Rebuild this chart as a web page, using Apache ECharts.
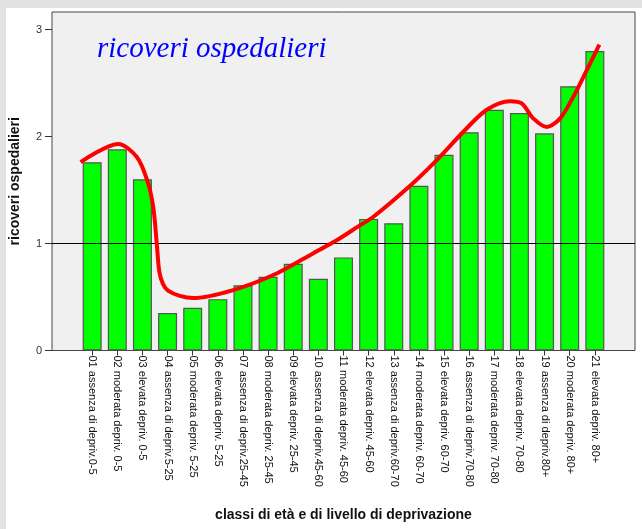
<!DOCTYPE html>
<html>
<head>
<meta charset="utf-8">
<script src="https://cdn.jsdelivr.net/npm/echarts@6/dist/echarts.min.js"></script>
<style>
  html, body { margin: 0; padding: 0; background: #e2e2e2; }
  #chart { width: 642px; height: 529px; }
</style>
</head>
<body>
<div id="chart"></div>
<script>
// categorie (classi di età x livello di deprivazione)
const categories = [
  '01 assenza di depriv.0-5', '02 moderata depriv. 0-5', '03 elevata depriv. 0-5',
  '04 assenza di depriv.5-25', '05 moderata depriv. 5-25', '06 elevata depriv. 5-25',
  '07 assenza di depriv.25-45', '08 moderata depriv. 25-45', '09 elevata depriv. 25-45',
  '10 assenza di depriv.45-60', '11 moderata depriv. 45-60', '12 elevata depriv. 45-60',
  '13 assenza di depriv.60-70', '14 moderata depriv. 60-70', '15 elevata depriv. 60-70',
  '16 assenza di depriv.70-80', '17 moderata depriv. 70-80', '18 elevata depriv. 70-80',
  '19 assenza di depriv.80+', '20 moderata depriv. 80+', '21 elevata depriv. 80+'
];
const ricoveri = [1.76, 1.88, 1.60, 0.35, 0.40, 0.48, 0.61, 0.69, 0.81, 0.67, 0.87,
  1.23, 1.19, 1.54, 1.83, 2.04, 2.25, 2.22, 2.03, 2.47, 2.80];
// curva di tendenza: [posizione categoria, valore]
const curvaX = [-0.46, 1.04, 1.77, 2.19, 2.43, 2.57, 2.67, 2.82, 3.02, 3.49, 4.02, 5.61,
  7.34, 8.80, 9.73, 10.59, 11.19, 12.65, 13.71, 14.77, 15.70, 16.63, 17.09, 17.55,
  18.09, 18.62, 19.14, 19.68, 20.18];
const curvaY = [1.76, 1.93, 1.81, 1.59, 1.34, 1.00, 0.74, 0.62, 0.56, 0.51, 0.49, 0.565,
  0.72, 0.91, 1.03, 1.16, 1.25, 1.54, 1.78, 2.045, 2.25, 2.33, 2.31, 2.17,
  2.09, 2.17, 2.37, 2.62, 2.86];
const yTicks = [0, 1, 2, 3];
const riferimento = 1;

const font = '"Liberation Sans", Arial, sans-serif';
const chart = echarts.init(document.getElementById('chart'));

chart.setOption({
  backgroundColor: '#e2e2e2',
  animation: false,
  graphic: [{
    type: 'rect', left: 6, top: 8, z: -10,
    shape: { width: 636, height: 521 },
    style: { fill: '#ffffff' }
  }],
  title: {
    text: 'ricoveri ospedalieri',
    left: 92, top: 30,
    textStyle: {
      fontFamily: '"Liberation Serif", "DejaVu Serif", serif',
      fontStyle: 'italic', fontWeight: 'normal',
      fontSize: 29, color: '#0000ff'
    }
  },
  grid: [
    { left: 51, right: 7, top: 12, bottom: 178.5, show: true,
      backgroundColor: '#f0f0f0', borderColor: '#444', borderWidth: 1 },
    { left: 79.6, right: 34.6, top: 12, bottom: 178.5 }
  ],
  xAxis: [
    { type: 'value', gridIndex: 0, min: 0, max: 1, show: false },
    {
      type: 'category', gridIndex: 1, data: categories,
      name: 'classi di età e di livello di deprivazione',
      nameLocation: 'middle', nameGap: 158,
      nameTextStyle: { fontFamily: font, fontWeight: 'bold', fontSize: 14, color: '#111' },
      axisLine: { show: false },
      axisTick: { show: true, alignWithLabel: true, length: 5, lineStyle: { color: '#333' } },
      axisLabel: { rotate: -90, fontFamily: font, fontSize: 11, color: '#111', margin: 5, interval: 0 }
    },
    { type: 'value', gridIndex: 1, min: -0.5, max: 20.5, show: false }
  ],
  yAxis: [
    {
      type: 'value', gridIndex: 0, min: 0, max: 3.164, interval: 1,
      name: 'ricoveri ospedalieri', nameLocation: 'middle', nameGap: 30,
      nameTextStyle: { fontFamily: font, fontWeight: 'bold', fontSize: 14, color: '#111' },
      axisLine: { show: false },
      axisTick: { show: true, length: 7, lineStyle: { color: '#333' } },
      axisLabel: {
        fontFamily: font, fontSize: 11, color: '#333', margin: 10, showMaxLabel: false,
        formatter: v => (yTicks.indexOf(v) >= 0 ? String(v) : '')
      },
      splitLine: { show: false }
    },
    { type: 'value', gridIndex: 1, min: 0, max: 3.164, show: false }
  ],
  series: [
    {
      type: 'bar', xAxisIndex: 1, yAxisIndex: 1, data: ricoveri,
      barWidth: 19,
      itemStyle: { color: '#00ff00', borderColor: '#555', borderWidth: 1.2 },
      z: 2
    },
    {
      type: 'line', xAxisIndex: 0, yAxisIndex: 0, data: [], z: 5,
      markLine: {
        silent: true, symbol: 'none', label: { show: false },
        lineStyle: { color: '#000', width: 1, type: 'solid' },
        data: [{ yAxis: riferimento }]
      }
    },
    {
      type: 'line', xAxisIndex: 2, yAxisIndex: 1,
      data: curvaX.map((x, i) => [x, curvaY[i]]),
      smooth: 0.3, showSymbol: false, z: 10,
      lineStyle: { color: '#ff0000', width: 4 }
    }
  ]
});
</script>
</body>
</html>
